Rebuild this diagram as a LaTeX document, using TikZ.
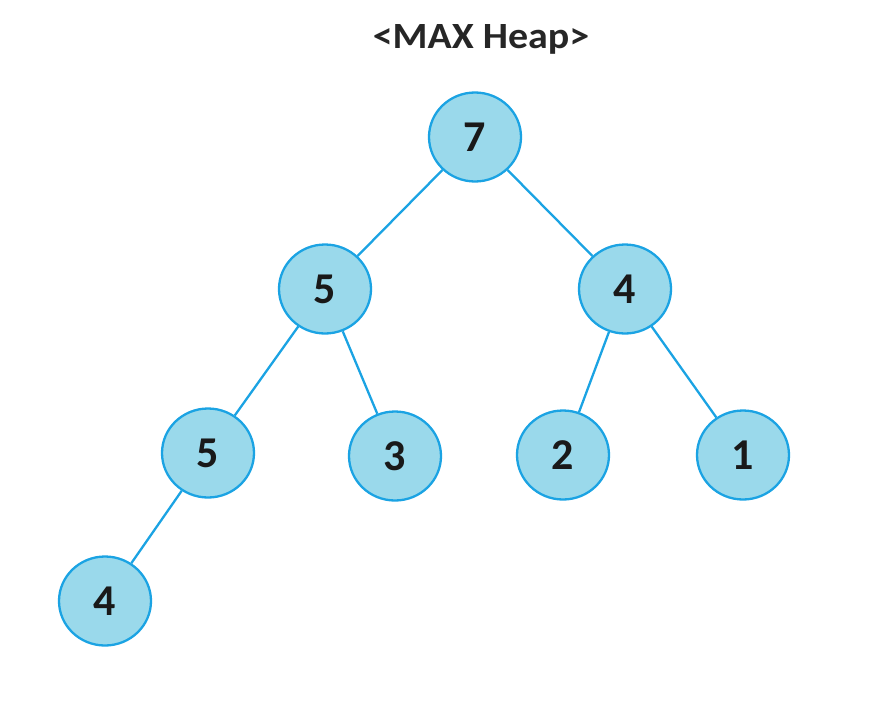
\documentclass[tikz,border=0pt]{standalone}
\usepackage{fontspec}
\setmainfont{Carlito}
\usetikzlibrary{shapes.geometric}
\definecolor{heapfill}{HTML}{9AD9EB}
\definecolor{heapline}{HTML}{1BA3E3}
\begin{document}
\begin{tikzpicture}[x=1pt,y=-1pt,
  heapnode/.style={ellipse,draw=heapline,fill=heapfill,line width=2.3pt,
    minimum width=92pt,minimum height=89pt,inner sep=0pt,
    font=\fontsize{44}{44}\selectfont\bfseries,text=black!90},
  heapedge/.style={draw=heapline,line width=2.3pt}]
\useasboundingbox (0,0) rectangle (891,710);
\node[anchor=base,font=\fontsize{37}{37}\selectfont\bfseries,text=black!85] (title) at (481,48) {\scalebox{1.08}[1]{<MAX Heap>}};
\node[heapnode] (n7) at (475,137) {7};
\node[heapnode] (n5a) at (325,289) {5};
\node[heapnode] (n4a) at (625,289) {4};
\node[heapnode] (n5b) at (208,453) {5};
\node[heapnode] (n3) at (395,456) {3};
\node[heapnode] (n2) at (563,455) {2};
\node[heapnode] (n1) at (743,455) {1};
\node[heapnode] (n4b) at (105,601) {4};
\draw[heapedge] (n7) -- (n5a);
\draw[heapedge] (n7) -- (n4a);
\draw[heapedge] (n5a) -- (n5b);
\draw[heapedge] (n5a) -- (n3);
\draw[heapedge] (n4a) -- (n2);
\draw[heapedge] (n4a) -- (n1);
\draw[heapedge] (n5b) -- (n4b);
\end{tikzpicture}
\end{document}
